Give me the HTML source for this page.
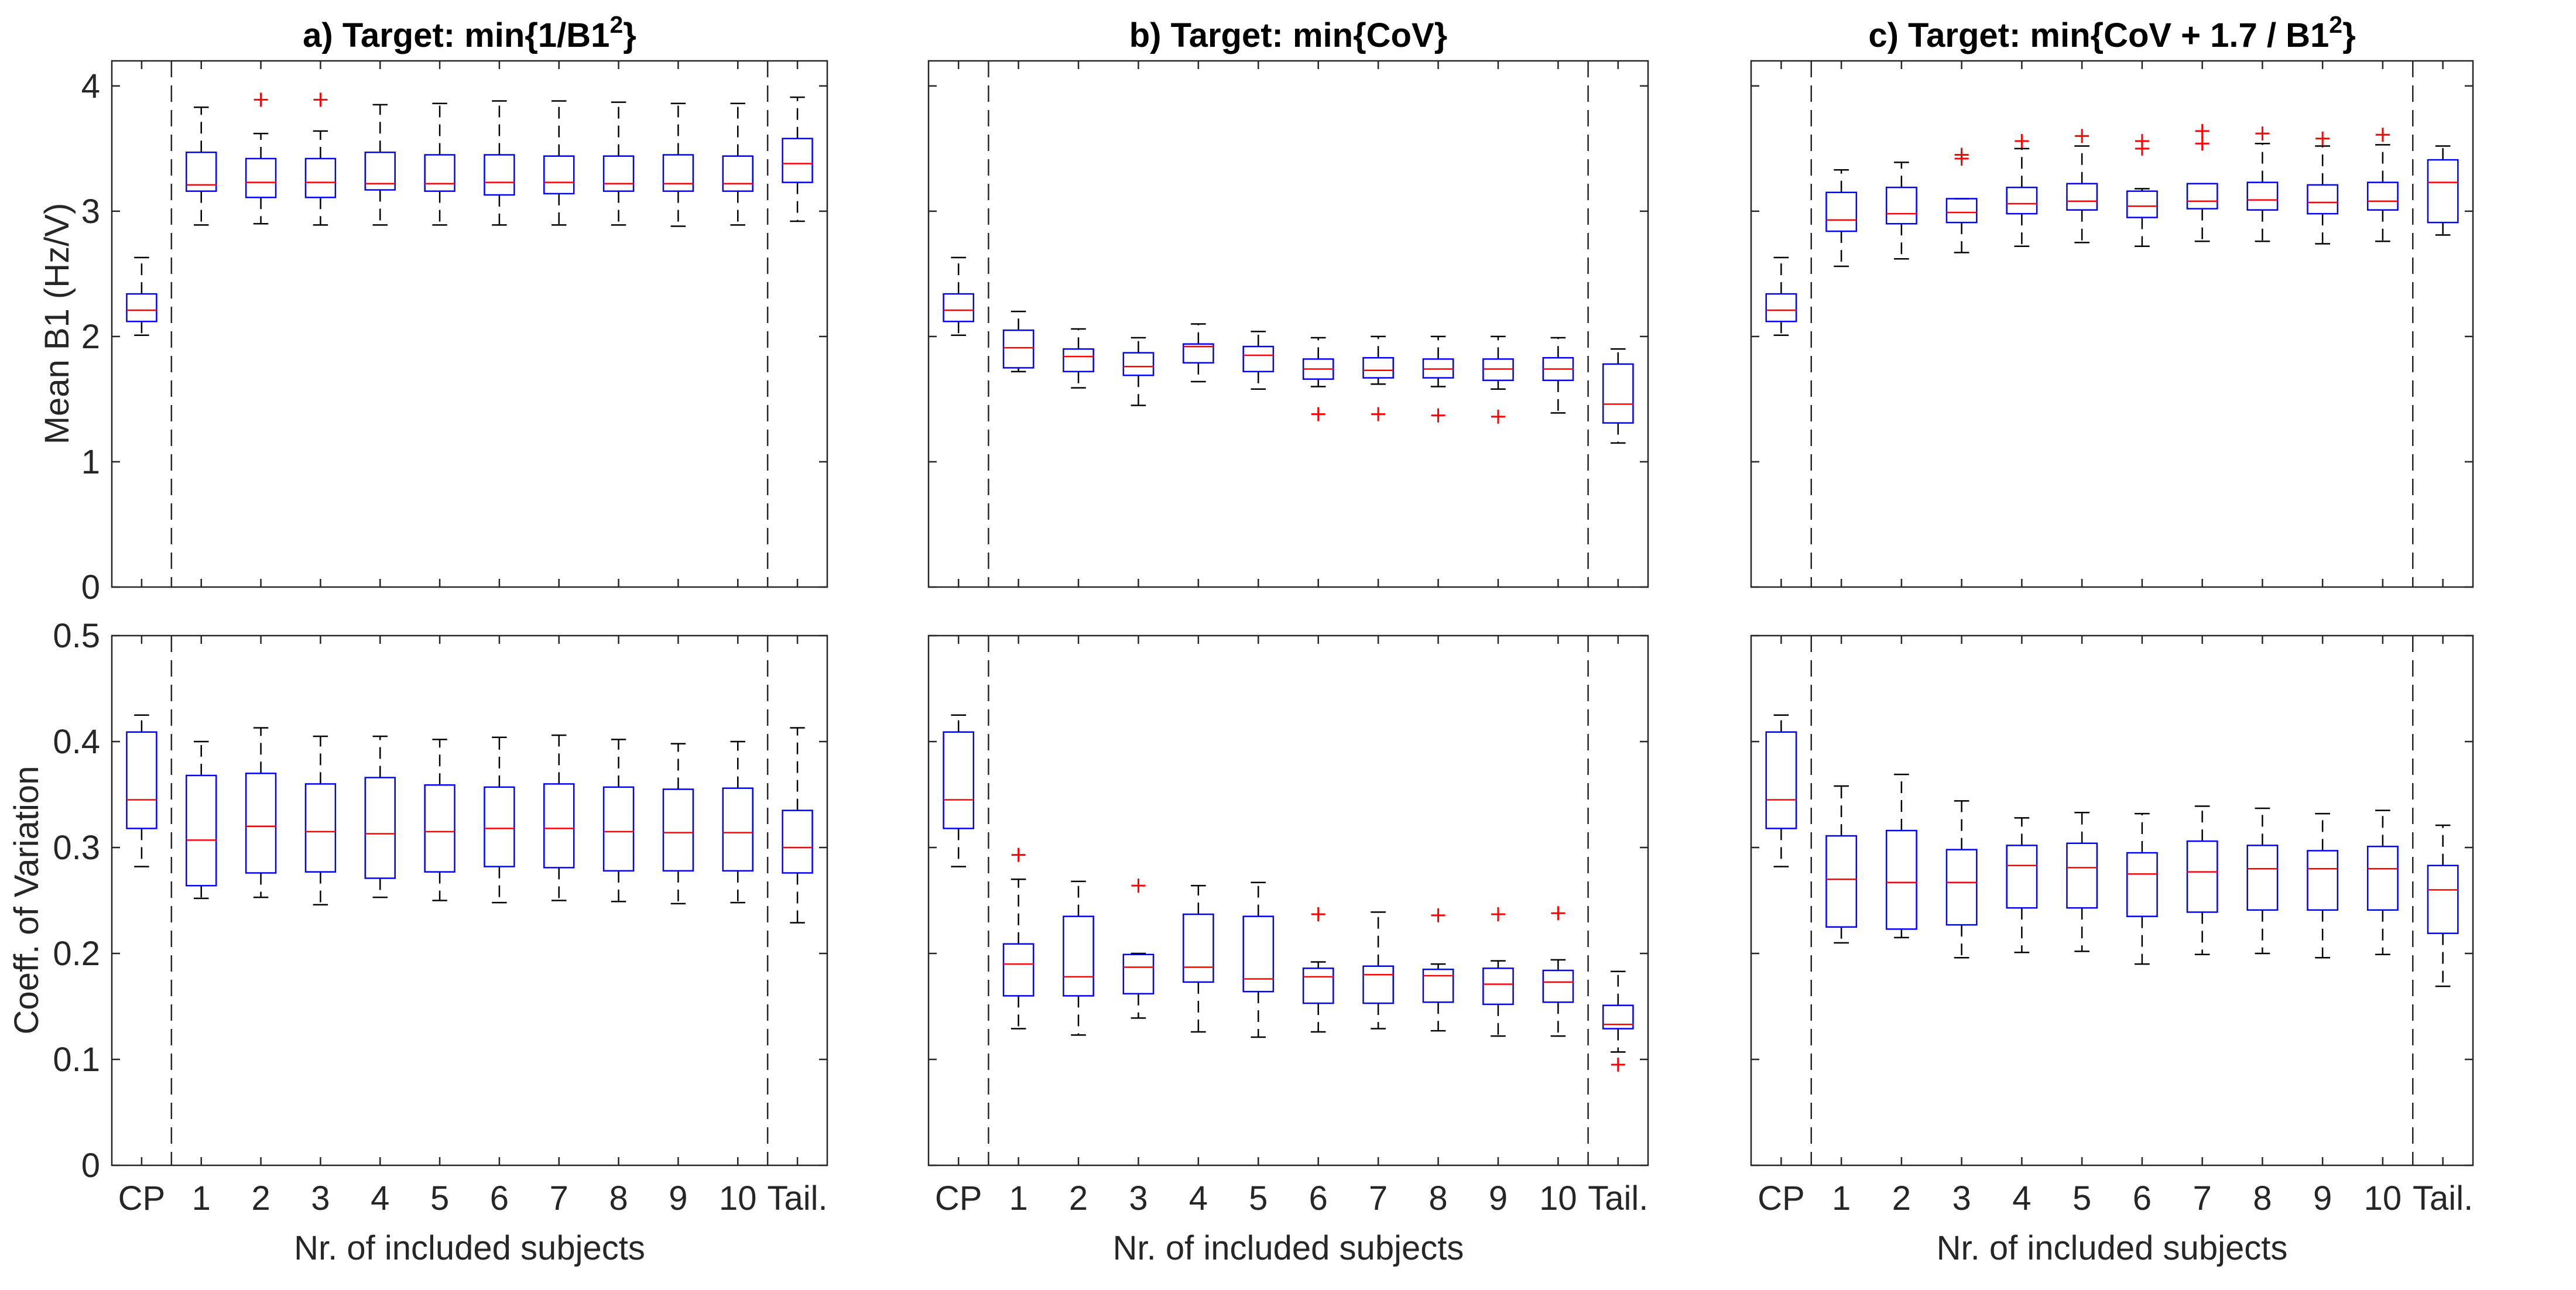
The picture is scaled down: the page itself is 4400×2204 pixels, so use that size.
<!DOCTYPE html>
<html><head><meta charset="utf-8"><style>
html,body{margin:0;padding:0;background:#fff;}
svg{display:block;font-family:"Liberation Sans",Arial,sans-serif;}
</style></head><body>
<svg id="fig" width="4400" height="2204" viewBox="0 0 4400 2204" xmlns="http://www.w3.org/2000/svg">
<rect width="4400" height="2204" fill="#fff"/>
</svg>
<script>
const categories = ["CP","1","2","3","4","5","6","7","8","9","10","Tail."];
const yTicksB1 = [0,1,2,3,4];
const yTicksCov = [0,0.1,0.2,0.3,0.4,0.5];
// each box: [lowerWhisker, q1, median, q3, upperWhisker]
const aB1 = [[2.01,2.12,2.21,2.34,2.63],[2.89,3.16,3.21,3.47,3.83],[2.90,3.11,3.23,3.42,3.62],[2.89,3.11,3.23,3.42,3.64],[2.89,3.17,3.22,3.47,3.85],[2.89,3.16,3.22,3.45,3.86],[2.89,3.13,3.23,3.45,3.88],[2.89,3.14,3.23,3.44,3.88],[2.89,3.16,3.22,3.44,3.87],[2.88,3.16,3.22,3.45,3.86],[2.89,3.16,3.22,3.44,3.86],[2.92,3.23,3.38,3.58,3.91]];
const aB1Out = [[],[],[3.89],[3.89],[],[],[],[],[],[],[],[]];
const aCov = [[0.282,0.318,0.345,0.409,0.425],[0.252,0.264,0.307,0.368,0.400],[0.253,0.276,0.320,0.370,0.413],[0.246,0.277,0.315,0.360,0.405],[0.253,0.271,0.313,0.366,0.405],[0.250,0.277,0.315,0.359,0.402],[0.248,0.282,0.318,0.357,0.404],[0.250,0.281,0.318,0.360,0.406],[0.249,0.278,0.315,0.357,0.402],[0.247,0.278,0.314,0.355,0.398],[0.248,0.278,0.314,0.356,0.400],[0.229,0.276,0.300,0.335,0.413]];
const aCovOut = [[],[],[],[],[],[],[],[],[],[],[],[]];
const bB1 = [[2.01,2.12,2.21,2.34,2.63],[1.72,1.75,1.91,2.05,2.20],[1.59,1.72,1.84,1.90,2.06],[1.45,1.69,1.76,1.87,1.99],[1.64,1.79,1.92,1.94,2.10],[1.58,1.72,1.85,1.92,2.04],[1.60,1.66,1.74,1.82,1.99],[1.62,1.67,1.73,1.83,2.00],[1.60,1.67,1.74,1.82,2.00],[1.58,1.65,1.74,1.82,2.00],[1.39,1.65,1.74,1.83,1.99],[1.15,1.31,1.46,1.78,1.90]];
const bB1Out = [[],[],[],[],[],[],[1.38],[1.38],[1.37],[1.36],[],[]];
const bCov = [[0.282,0.318,0.345,0.409,0.425],[0.129,0.160,0.190,0.209,0.270],[0.123,0.160,0.178,0.235,0.268],[0.139,0.162,0.187,0.199,0.200],[0.126,0.173,0.187,0.237,0.264],[0.121,0.164,0.176,0.235,0.267],[0.126,0.153,0.178,0.186,0.192],[0.129,0.153,0.180,0.188,0.239],[0.127,0.154,0.179,0.185,0.190],[0.122,0.152,0.171,0.186,0.193],[0.122,0.154,0.173,0.184,0.194],[0.107,0.129,0.133,0.151,0.183]];
const bCovOut = [[],[0.293],[],[0.264],[],[],[0.237],[],[0.236],[0.237],[0.238],[0.095]];
const cB1 = [[2.01,2.12,2.21,2.34,2.63],[2.56,2.84,2.93,3.15,3.33],[2.62,2.90,2.98,3.19,3.39],[2.67,2.91,2.99,3.10,3.10],[2.72,2.98,3.06,3.19,3.50],[2.75,3.01,3.08,3.22,3.52],[2.72,2.95,3.04,3.16,3.18],[2.76,3.02,3.08,3.22,3.22],[2.76,3.01,3.09,3.23,3.54],[2.74,2.98,3.07,3.21,3.52],[2.76,3.01,3.08,3.23,3.53],[2.81,2.91,3.23,3.41,3.52]];
const cB1Out = [[],[],[],[3.45,3.42],[3.56],[3.60],[3.56,3.50],[3.64,3.54],[3.62],[3.58],[3.61],[]];
const cCov = [[0.282,0.318,0.345,0.409,0.425],[0.210,0.225,0.270,0.311,0.358],[0.215,0.223,0.267,0.316,0.369],[0.196,0.227,0.267,0.298,0.344],[0.201,0.243,0.283,0.302,0.328],[0.202,0.243,0.281,0.304,0.333],[0.190,0.235,0.275,0.295,0.332],[0.199,0.239,0.277,0.306,0.339],[0.200,0.241,0.280,0.302,0.337],[0.196,0.241,0.280,0.297,0.332],[0.199,0.241,0.280,0.301,0.335],[0.169,0.219,0.260,0.283,0.321]];
const cCovOut = [[],[],[],[],[],[],[],[],[],[],[],[]];

const NS = "http://www.w3.org/2000/svg";
const svg = document.getElementById('fig');
function mk(tag, attrs, parent){
  const e = document.createElementNS(NS, tag);
  for (const k in attrs) e.setAttribute(k, attrs[k]);
  (parent||svg).appendChild(e);
  return e;
}
const cols = [{x0:191,x1:1413},{x0:1586,x1:2815},{x0:2991,x1:4224}];
const rows = [{y0:104,y1:1003,max:4.2,ticks:yTicksB1},{y0:1086,y1:1991,max:0.5,ticks:yTicksCov}];
const panels = [
  [aB1,aB1Out,aCov,aCovOut],
  [bB1,bB1Out,bCov,bCovOut]
  ,[cB1,cB1Out,cCov,cCovOut]
];
const titles = ["a) Target: min{1/B1","b) Target: min{CoV}","c) Target: min{CoV + 1.7 / B1"];
const sup = [true,false,true];

for (let c=0;c<3;c++){
  for (let r=0;r<2;r++){
    const C=cols[c], R=rows[r];
    const g = mk('g',{});
    
    
    const xs = v => C.x0 + (v-0.5)/12*(C.x1-C.x0);
    const ys = v => R.y1 - v/R.max*(R.y1-R.y0);
    const unit = (C.x1-C.x0)/12;
    const ax = mk('rect',{x:C.x0,y:R.y0,width:C.x1-C.x0,height:R.y1-R.y0,fill:'none',stroke:'#262626','stroke-width':2.5},g);
    
    
    R.ticks.forEach(t=>{
      const y=ys(t);
      mk('line',{x1:C.x0,x2:C.x0+14,y1:y,y2:y,stroke:'#262626','stroke-width':2.5},g);
      mk('line',{x1:C.x1,x2:C.x1-14,y1:y,y2:y,stroke:'#262626','stroke-width':2.5},g);
      if (c===0){
        const tl = mk('text',{x:C.x0-20,y:y+20,'text-anchor':'end','font-size':58,fill:'#262626'},g);
        tl.textContent = String(t);
        
        
      }
    });
    categories.forEach((cat,i)=>{
      const x=xs(i+1);
      mk('line',{x1:x,x2:x,y1:R.y1,y2:R.y1-14,stroke:'#262626','stroke-width':2.5},g);
      mk('line',{x1:x,x2:x,y1:R.y0,y2:R.y0+14,stroke:'#262626','stroke-width':2.5},g);
      if (r===1){
        const tl = mk('text',{x:x,y:2067,'text-anchor':'middle','font-size':58,fill:'#262626'},g);
        tl.textContent = cat;
        
        
      }
    });
    [1.5,11.5].forEach(v=>{
      const dl = mk('line',{x1:xs(v),x2:xs(v),y1:R.y0,y2:R.y1,stroke:'#262626','stroke-width':2.5,'stroke-dasharray':'28 14'},g);
      
      
    });
    const data = panels[c][r*2], outs = panels[c][r*2+1];
    data.forEach((d,i)=>{
      const x=xs(i+1), hw=unit*0.25, cw=unit*0.125;
      const bg = mk('g',{},g);
      
      
      mk('line',{x1:x,x2:x,y1:ys(d[3]),y2:ys(d[4]),stroke:'#000','stroke-width':2.5,'stroke-dasharray':'20 12'},bg);
      mk('line',{x1:x,x2:x,y1:ys(d[1]),y2:ys(d[0]),stroke:'#000','stroke-width':2.5,'stroke-dasharray':'20 12'},bg);
      mk('line',{x1:x-cw,x2:x+cw,y1:ys(d[4]),y2:ys(d[4]),stroke:'#000','stroke-width':2.5},bg);
      mk('line',{x1:x-cw,x2:x+cw,y1:ys(d[0]),y2:ys(d[0]),stroke:'#000','stroke-width':2.5},bg);
      mk('rect',{x:x-hw,y:ys(d[3]),width:2*hw,height:ys(d[1])-ys(d[3]),fill:'none',stroke:'#0000ff','stroke-width':2.5},bg);
      mk('line',{x1:x-hw,x2:x+hw,y1:ys(d[2]),y2:ys(d[2]),stroke:'#ff0000','stroke-width':2.5},bg);
      outs[i].forEach(o=>{
        const y=ys(o);
        const p = mk('path',{d:`M${x-12},${y}H${x+12}M${x},${y-12}V${y+12}`,stroke:'#ff0000','stroke-width':3,fill:'none'},bg);
        
        
      });
    });
    if (r===0){
      const t = mk('text',{x:(C.x0+C.x1)/2,y:80,'text-anchor':'middle','font-size':58,'font-weight':'bold',fill:'#000'},g);
      
      
      t.appendChild(document.createTextNode(titles[c]));
      if (sup[c]){
        const s = mk('tspan',{dy:-24,'font-size':41},t); s.textContent='2';
        const s2 = mk('tspan',{dy:24},t); s2.textContent='}';
      }
    } else {
      const xl = mk('text',{x:(C.x0+C.x1)/2,y:2152,'text-anchor':'middle','font-size':58,fill:'#262626'},g);
      xl.textContent='Nr. of included subjects';
      
      
    }
  }
}
const yl1 = mk('text',{x:0,y:0,'text-anchor':'middle','font-size':58,fill:'#262626',transform:'translate(117,553) rotate(-90)'});
yl1.textContent='Mean B1 (Hz/V)';


const yl2 = mk('text',{x:0,y:0,'text-anchor':'middle','font-size':58,fill:'#262626',transform:'translate(65,1538) rotate(-90)'});
yl2.textContent='Coeff. of Variation';


</script>
</body></html>
